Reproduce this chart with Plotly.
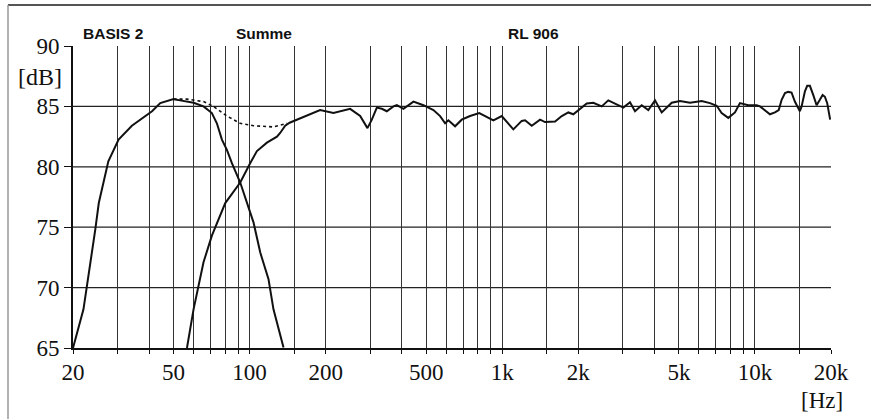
import plotly.graph_objects as go
import math

# ---------------- data ----------------
basis_f = [20, 22.0, 24.5, 25.3, 27.6, 30.3, 34.2, 41.1, 44.3, 50.0, 53.1, 60.0,
           65.7, 70.9, 74.2, 77.7, 81.3, 85.1, 91.8, 99.0, 103.6, 110.2, 118.8,
           124.3, 136.2]
basis_db = [65.0, 68.2, 74.8, 77.0, 80.45, 82.25, 83.4, 84.6, 85.27, 85.6, 85.5,
            85.3, 85.0, 84.45, 83.6, 82.25, 81.4, 80.3, 78.7, 76.75, 75.4, 72.9,
            70.7, 68.2, 65.05]

summe_f = [50.0, 56.5, 65.7, 71.9, 81.3, 91.8, 103.6, 124.3, 140.7]
summe_db = [85.6, 85.6, 85.4, 85.0, 84.2, 83.6, 83.4, 83.3, 83.6]

rl_f = [56.5, 60.0, 65.7, 70.9, 80.1, 91.8, 100.5, 106.9, 117.1, 128.3, 132.1,
        138.3, 144, 153.9, 168.6, 190.1, 214.7, 250, 273.9, 292.7, 304.6, 318.8,
        333.7, 349.2, 370.9, 382.6, 406.3, 425.2, 445, 487.5, 534, 567.5, 594,
        612, 650.5, 691, 745.6, 811, 922, 995, 1106, 1194, 1231, 1308, 1411,
        1477, 1618, 1720, 1826, 1911, 2031, 2159, 2293, 2475, 2628, 2751, 3014,
        3203, 3352, 3562, 3784, 4023, 4275, 4684, 5050, 5534, 6155, 6638, 7056,
        7384, 7843, 8336, 8723, 9410, 10157, 10467, 11130, 11465, 12000, 12420,
        12755, 13150, 13540, 13960, 14390, 15060, 15300, 15770, 16100, 16500,
        17010, 17540, 18070, 18530, 18920, 19320, 19850]
rl_db = [65.0, 68.2, 72.1, 74.3, 77.0, 78.7, 80.3, 81.3, 82.0, 82.5, 82.8,
         83.4, 83.65, 83.9, 84.3, 84.7, 84.45, 84.8, 84.2, 83.2, 83.9, 84.9,
         84.8, 84.6, 85.0, 85.1, 84.8, 85.1, 85.4, 85.1, 84.7, 84.2, 83.6,
         83.85, 83.35, 83.9, 84.2, 84.45, 83.85, 84.2, 83.1, 83.8, 83.85, 83.4, 83.9,
         83.7, 83.75, 84.2, 84.5, 84.35, 84.8, 85.25, 85.3, 85.0, 85.5, 85.3, 84.9,
         85.35, 84.6, 85.1, 84.7, 85.5, 84.5, 85.3, 85.45, 85.3, 85.45, 85.27, 85.05,
         84.45, 84.05, 84.5, 85.27, 85.1, 85.1, 85.0, 84.6, 84.35, 84.5, 84.7,
         85.55, 86.1, 86.2, 86.15, 85.4, 84.6, 85.0, 86.25, 86.7, 86.7,
         85.95, 85.1, 85.55, 85.95, 85.8, 85.27, 83.9]

grid_freqs = [20, 30, 40, 50, 60, 70, 80, 90, 100, 150, 200, 300, 400, 500, 600,
              700, 800, 900, 1000, 1500, 2000, 3000, 4000, 5000, 6000, 7000, 8000,
              9000, 10000, 15000, 20000]
freq_labels = {20: "20", 50: "50", 100: "100", 200: "200", 500: "500",
               1000: "1k", 2000: "2k", 5000: "5k", 10000: "10k", 20000: "20k"}
db_ticks = [65, 70, 75, 80, 85, 90]
db_grid = [70, 75, 80, 85]

# ---------------- figure ----------------
W, H = 871, 419
PX0, PX1, PY0, PY1 = 73, 831, 46, 348          # plot area in window pixels
L, R = PX0, W - PX1
T, B = PY0, H - PY1
pw, ph = PX1 - PX0, PY1 - PY0

def px_x(p):
    return (p - PX0) / pw

def px_y(p):
    return (PY1 - p) / ph

fig = go.Figure()
line_col = "#111111"
fig.add_trace(go.Scatter(x=basis_f, y=basis_db, mode="lines",
                         line=dict(color=line_col, width=2), name="BASIS 2"))
fig.add_trace(go.Scatter(x=rl_f, y=rl_db, mode="lines",
                         line=dict(color=line_col, width=2), name="RL 906"))
fig.add_trace(go.Scatter(x=summe_f, y=summe_db, mode="lines",
                         line=dict(color=line_col, width=1.6, dash="dot"),
                         name="Summe"))

shapes = []
for v in db_grid:
    shapes.append(dict(type="line", xref="paper", yref="y", x0=0, x1=1, y0=v, y1=v,
                       line=dict(color="#222222", width=1.2), layer="below"))
# outer frame (top and left)
shapes.append(dict(type="line", xref="paper", yref="paper",
                   x0=px_x(8), x1=px_x(W), y0=px_y(5), y1=px_y(5),
                   line=dict(color="#555555", width=2)))
shapes.append(dict(type="line", xref="paper", yref="paper",
                   x0=px_x(8), x1=px_x(8), y0=px_y(5), y1=px_y(H),
                   line=dict(color="#999999", width=1.5)))

sans = "Liberation Sans, Arial, sans-serif"
serif = "Liberation Serif, Times New Roman, serif"
ann = [
    dict(text="<b>BASIS 2</b>", x=px_x(81), y=px_y(33.5), xanchor="left", yanchor="middle",
         font=dict(family=sans, size=15.5, color="#111")),
    dict(text="<b>Summe</b>", x=px_x(234), y=px_y(33.5), xanchor="left", yanchor="middle",
         font=dict(family=sans, size=15.5, color="#111")),
    dict(text="<b>RL 906</b>", x=px_x(533), y=px_y(33.5), xanchor="center", yanchor="middle",
         font=dict(family=sans, size=15.5, color="#111")),
    dict(text="[dB]", x=px_x(64), y=px_y(77), xanchor="right", yanchor="middle",
         font=dict(family=serif, size=24, color="#111")),
    dict(text="[Hz]", x=px_x(822), y=px_y(400), xanchor="center", yanchor="middle",
         font=dict(family=serif, size=23, color="#111")),
]
for a in ann:
    a.update(xref="paper", yref="paper", showarrow=False)

fig.update_layout(
    width=W, height=H,
    margin=dict(l=L, r=R, t=T, b=B, pad=0),
    paper_bgcolor="white", plot_bgcolor="white",
    showlegend=False,
    shapes=shapes, annotations=ann,
    xaxis=dict(type="log", range=[math.log10(20), math.log10(20000)],
               tickvals=grid_freqs,
               ticktext=[freq_labels.get(f, "") for f in grid_freqs],
               showgrid=True, gridcolor="#333333", gridwidth=1,
               showline=True, linecolor="#111", linewidth=2,
               ticks="outside", ticklen=4, tickcolor="#111", tickwidth=1,
               ticklabelstandoff=-2,
               tickfont=dict(family=serif, size=23, color="#111"),
               zeroline=False, fixedrange=True),
    yaxis=dict(range=[65, 90], tickvals=db_ticks,
               ticktext=[str(v) for v in db_ticks],
               showgrid=False,
               showline=True, linecolor="#111", linewidth=2,
               ticks="outside", ticklen=7, tickcolor="#111", tickwidth=1,
               tickfont=dict(family=serif, size=23, color="#111"),
               zeroline=False, fixedrange=True),
)

fig.write_html("out.html", config={"displayModeBar": False},
               post_script="document.body.style.margin='0px';"
                           "document.body.style.overflow='hidden';")
